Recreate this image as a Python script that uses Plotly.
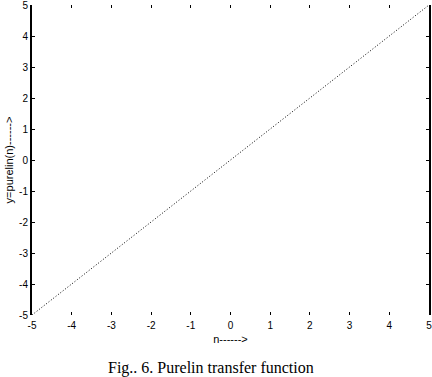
import plotly.graph_objects as go

n_vals = [-5, -4, -3, -2, -1, 0, 1, 2, 3, 4, 5]
y_vals = [-5, -4, -3, -2, -1, 0, 1, 2, 3, 4, 5]
tick_vals = [-5, -4, -3, -2, -1, 0, 1, 2, 3, 4, 5]
tick_text = ["-5", "-4", "-3", "-2", "-1", "0", "1", "2", "3", "4", "5"]

fig = go.Figure()
fig.add_trace(go.Scatter(x=n_vals, y=y_vals, mode="lines",
                         line=dict(color="black", width=1, dash="1px,2px"),
                         showlegend=False, cliponaxis=False))

axis_font = dict(family="Liberation Sans, Arial", size=10, color="black")
lab_font = dict(family="Liberation Sans, Arial", size=11, color="black")
fig.update_layout(
    width=432, height=377,
    margin=dict(l=32, r=3, t=5, b=62),
    paper_bgcolor="white", plot_bgcolor="white",
    xaxis=dict(range=[-5, 5], tickvals=tick_vals, ticktext=tick_text, ticks="inside", ticklen=3,
               tickcolor="black", showline=False, mirror="ticks", showgrid=False,
               zeroline=False, tickfont=axis_font, automargin=False,
               ticklabeloverflow="allow", ticklabelstandoff=3,
               title=dict(text="n------>", font=lab_font, standoff=5)),
    yaxis=dict(range=[-5, 5], tickvals=tick_vals, ticktext=tick_text, ticks="inside", ticklen=3,
               tickcolor="black", showline=True, linecolor="black", linewidth=2,
               mirror="ticks", showgrid=False, zeroline=False, tickfont=axis_font,
               automargin=False, ticklabeloverflow="allow",
               title=dict(text="y=purelin(n)------>", font=lab_font, standoff=3)),
    annotations=[dict(text="Fig.. 6. Purelin transfer function", x=0.45, y=-0.135,
                      xref="paper", yref="paper", yanchor="top", xanchor="center",
                      showarrow=False,
                      font=dict(family="Liberation Serif, Times New Roman", size=16, color="black"))],
)

fig.write_html("out.html", config={"displayModeBar": False},
               post_script="document.body.style.margin='0';document.body.style.padding='0';")
